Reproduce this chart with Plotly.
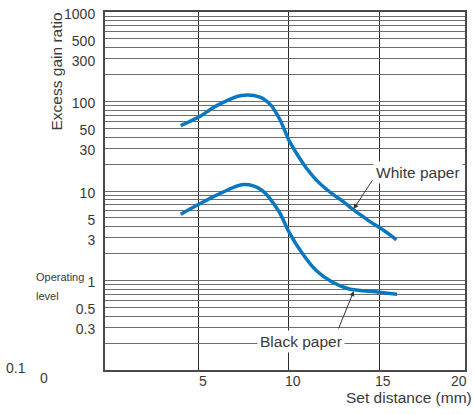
import numpy as np
import plotly.graph_objects as go

# Excess gain ratio vs. set distance for two target papers
white_x = [4.0, 5.0, 6.0, 7.35, 8.4, 9.0, 9.5, 10.0, 10.5, 11.0, 11.5, 12.0, 12.5,
           13.0, 13.5, 14.0, 14.5, 15.0, 15.5, 15.96]
white_y = [53.7, 67, 90, 117, 112, 91, 63, 37, 24.9, 17.7, 13.4, 10.8, 9.0,
           7.66, 6.34, 5.37, 4.55, 3.93, 3.36, 2.85]

black_x = [4.0, 5.0, 6.0, 7.5, 8.5, 9.45, 10.0, 10.75, 11.5, 12.4, 13.3, 15.0, 16.0]
black_y = [5.5, 7.1, 9.0, 11.8, 10.2, 5.9, 3.5, 2.0, 1.3, 0.96, 0.81, 0.74, 0.70]

x_ticks = [5, 10, 15, 20]
y_labels = [0.3, 0.5, 1, 3, 5, 10, 30, 50, 100, 300, 500, 1000]

X_RANGE = [-0.2, 19.77]

FONT = "Liberation Sans, Arial, sans-serif"
TEXT = "#3a3a3a"
BLUE = "#0a78c0"

# log grid: every 1..9 step of each decade
grid_vals = [m * 10.0 ** k for k in range(-1, 3) for m in range(1, 10)] + [1000]
grid_text = []
for v in grid_vals:
    match = [lab for lab in y_labels if abs(lab - v) < 1e-9]
    grid_text.append(("%g" % match[0]) if match else "")

fig = go.Figure()
fig.add_trace(go.Scatter(x=white_x, y=white_y, mode="lines",
                         line=dict(color=BLUE, width=3.5, shape="spline", smoothing=0.9),
                         hoverinfo="skip", showlegend=False))
fig.add_trace(go.Scatter(x=black_x, y=black_y, mode="lines",
                         line=dict(color=BLUE, width=3.5, shape="spline", smoothing=0.9),
                         hoverinfo="skip", showlegend=False))

fig.update_xaxes(range=X_RANGE, tickvals=x_ticks[:-1], showticklabels=False,
                 showgrid=True, gridcolor="#2a2a2a", gridwidth=1, zeroline=False,
                 showline=True, mirror=True, linecolor="#4a4a4a", linewidth=2, ticks="")
fig.update_yaxes(type="log", range=[-1, 3], tickvals=grid_vals, ticktext=grid_text,
                 showgrid=True, gridcolor="#6e6e6e", gridwidth=1, zeroline=False,
                 showline=True, mirror=True, linecolor="#4a4a4a", linewidth=2, ticks="",
                 tickfont=dict(family=FONT, size=14, color=TEXT),
                 ticklabelstandoff=5, ticklabelshift=2)

ann = []
# x tick labels placed on the axis scale; the last one is kept inside the page edge
for t in x_ticks:
    frac = (t - X_RANGE[0]) / (X_RANGE[1] - X_RANGE[0])
    last = t == x_ticks[-1]
    ann.append(dict(x=frac, y=0, xref="paper", yref="paper", text=str(t), showarrow=False,
                    xanchor="right" if last else "center", yanchor="middle",
                    xshift=0 if last else 4, yshift=-11,
                    font=dict(family=FONT, size=14, color=TEXT)))

# stray axis origin labels
ann.append(dict(x=-0.247, y=0.005, xref="paper", yref="paper", text="0.1", showarrow=False,
                xanchor="center", yanchor="middle", font=dict(family=FONT, size=14, color=TEXT)))
ann.append(dict(x=-0.17, y=-0.023, xref="paper", yref="paper", text="0", showarrow=False,
                xanchor="center", yanchor="middle", font=dict(family=FONT, size=14, color=TEXT)))

# operating level marker
ann.append(dict(x=-0.198, y=0.259, xref="paper", yref="paper", text="Operating", showarrow=False,
                xanchor="left", yanchor="middle", font=dict(family=FONT, size=11, color=TEXT)))
ann.append(dict(x=-0.198, y=0.207, xref="paper", yref="paper", text="level", showarrow=False,
                xanchor="left", yanchor="middle", font=dict(family=FONT, size=11, color=TEXT)))

# axis titles
ann.append(dict(x=-0.135, y=0.835, xref="paper", yref="paper", text="Excess gain ratio",
                textangle=-90, showarrow=False, xanchor="center", yanchor="middle",
                font=dict(family=FONT, size=15.5, color=TEXT)))
ann.append(dict(x=0.664, y=-0.077, xref="paper", yref="paper", text="Set distance (mm)",
                showarrow=False, xanchor="left", yanchor="middle",
                font=dict(family=FONT, size=15.5, color=TEXT)))

# curve labels
ann.append(dict(x=17.16, y=np.log10(16.0), xref="x", yref="y", text="White paper",
                showarrow=False, bgcolor="white", borderpad=2,
                font=dict(family=FONT, size=15.5, color=TEXT)))
ann.append(dict(x=10.7, y=-0.677, xref="x", yref="y", text="Black paper",
                showarrow=False, bgcolor="white", borderpad=2,
                font=dict(family=FONT, size=15.5, color=TEXT)))

# leader arrows
ann.append(dict(x=13.59, y=np.log10(6.3), ax=14.69, ay=np.log10(13.7),
                xref="x", yref="y", axref="x", ayref="y", text="",
                showarrow=True, arrowhead=2, arrowsize=1, arrowwidth=1, arrowcolor="#333333"))
ann.append(dict(x=13.6, y=np.log10(0.76), ax=12.72, ay=np.log10(0.28),
                xref="x", yref="y", axref="x", ayref="y", text="",
                showarrow=True, arrowhead=2, arrowsize=1, arrowwidth=1, arrowcolor="#333333"))

fig.update_layout(width=473, height=414, margin=dict(l=105, r=6, t=7, b=44),
                  paper_bgcolor="white", plot_bgcolor="white", annotations=ann,
                  font=dict(family=FONT, color=TEXT))

fig.write_html("out.html")
